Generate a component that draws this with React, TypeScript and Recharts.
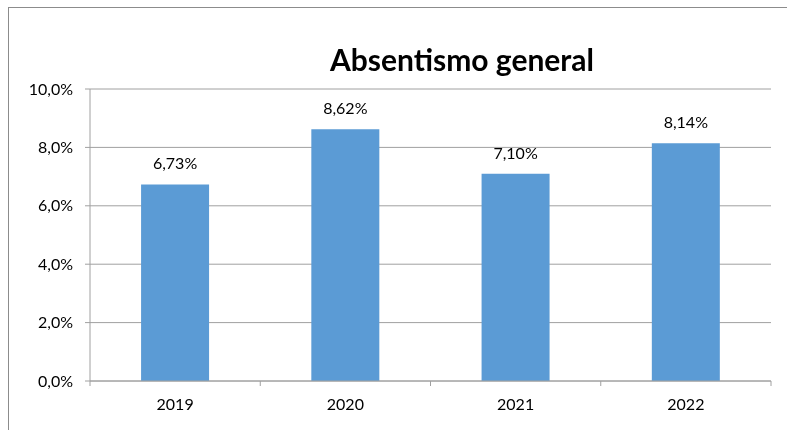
import React from 'react';
import { BarChart, Bar, XAxis, YAxis, CartesianGrid, LabelList } from 'recharts';

const years = ['2019', '2020', '2021', '2022'];
const absentismo = [6.73, 8.62, 7.1, 8.14];
const yTicks = [0, 2, 4, 6, 8, 10];

const data = years.map((year, i) => ({ year, value: absentismo[i] }));

const FONT = 'Lato, "Open Sans", sans-serif';
const GRID = '#a0a0a0';

const CHART_W = 770;
const CHART_H = 414;
const Y_W = 81;
const RIGHT = 8;
const BAND = (CHART_W - Y_W - RIGHT) / years.length;

const fmtAxis = (v: number) => v.toFixed(1).replace('.', ',') + '%';
const fmtLabel = (v: number) => v.toFixed(2).replace('.', ',') + '%';

// category label plus tick marks at the band boundaries
const YearTick = (props: any) => {
  const { x, y, payload, index } = props;
  const axisY = y - 18;
  const left = x - BAND / 2;
  const right = x + BAND / 2;
  return (
    <g>
      <line x1={left} x2={left} y1={axisY} y2={axisY + 5} stroke={GRID} />
      {index === years.length - 1 && (
        <line x1={right} x2={right} y1={axisY} y2={axisY + 5} stroke={GRID} />
      )}
      <text x={x} y={y} dy="0.71em" textAnchor="middle" fontSize={16} fill="#000" fontFamily={FONT}>
        {payload.value}
      </text>
    </g>
  );
};

const App: React.FC = () => {
  return (
    <>
      {/* chart frame, only top and left edges fall inside the window */}
      <div
        style={{
          position: 'fixed',
          left: 8,
          top: 7,
          width: 800,
          height: 500,
          boxSizing: 'border-box',
          borderLeft: '1px solid #8c8c8c',
          borderTop: '1px solid #8c8c8c',
          pointerEvents: 'none',
        }}
      />
      <div
        style={{
          position: 'fixed',
          left: 9,
          top: 8,
          width: CHART_W,
          height: CHART_H,
          fontFamily: FONT,
        }}
      >
        <div
          style={{
            position: 'absolute',
            left: 253,
            top: 36,
            width: 400,
            textAlign: 'center',
            fontSize: 30,
            lineHeight: '30px',
            fontWeight: 700,
            color: '#000',
          }}
        >
          Absentismo general
        </div>
        <BarChart
          width={CHART_W}
          height={CHART_H}
          data={data}
          margin={{ top: 81, right: RIGHT, left: 0, bottom: 0 }}
          barCategoryGap="30%"
        >
          <CartesianGrid vertical={false} stroke={GRID} />
          <XAxis
            dataKey="year"
            height={41}
            axisLine={{ stroke: GRID }}
            tickLine={false}
            tickSize={0}
            tickMargin={18}
            interval={0}
            tick={<YearTick />}
          />
          <YAxis
            width={Y_W}
            domain={[0, 10]}
            ticks={yTicks}
            tickFormatter={fmtAxis}
            axisLine={{ stroke: GRID }}
            tickLine={{ stroke: GRID }}
            tickSize={5}
            tickMargin={12}
            tick={{ fontSize: 16, fill: '#000', fontFamily: FONT }}
          />
          <Bar dataKey="value" fill="#5b9bd5" isAnimationActive={false}>
            <LabelList
              dataKey="value"
              position="top"
              offset={15}
              formatter={(v: any) => fmtLabel(Number(v))}
              style={{ fontSize: 16, fill: '#000', fontFamily: FONT }}
            />
          </Bar>
        </BarChart>
      </div>
    </>
  );
};

export default App;
